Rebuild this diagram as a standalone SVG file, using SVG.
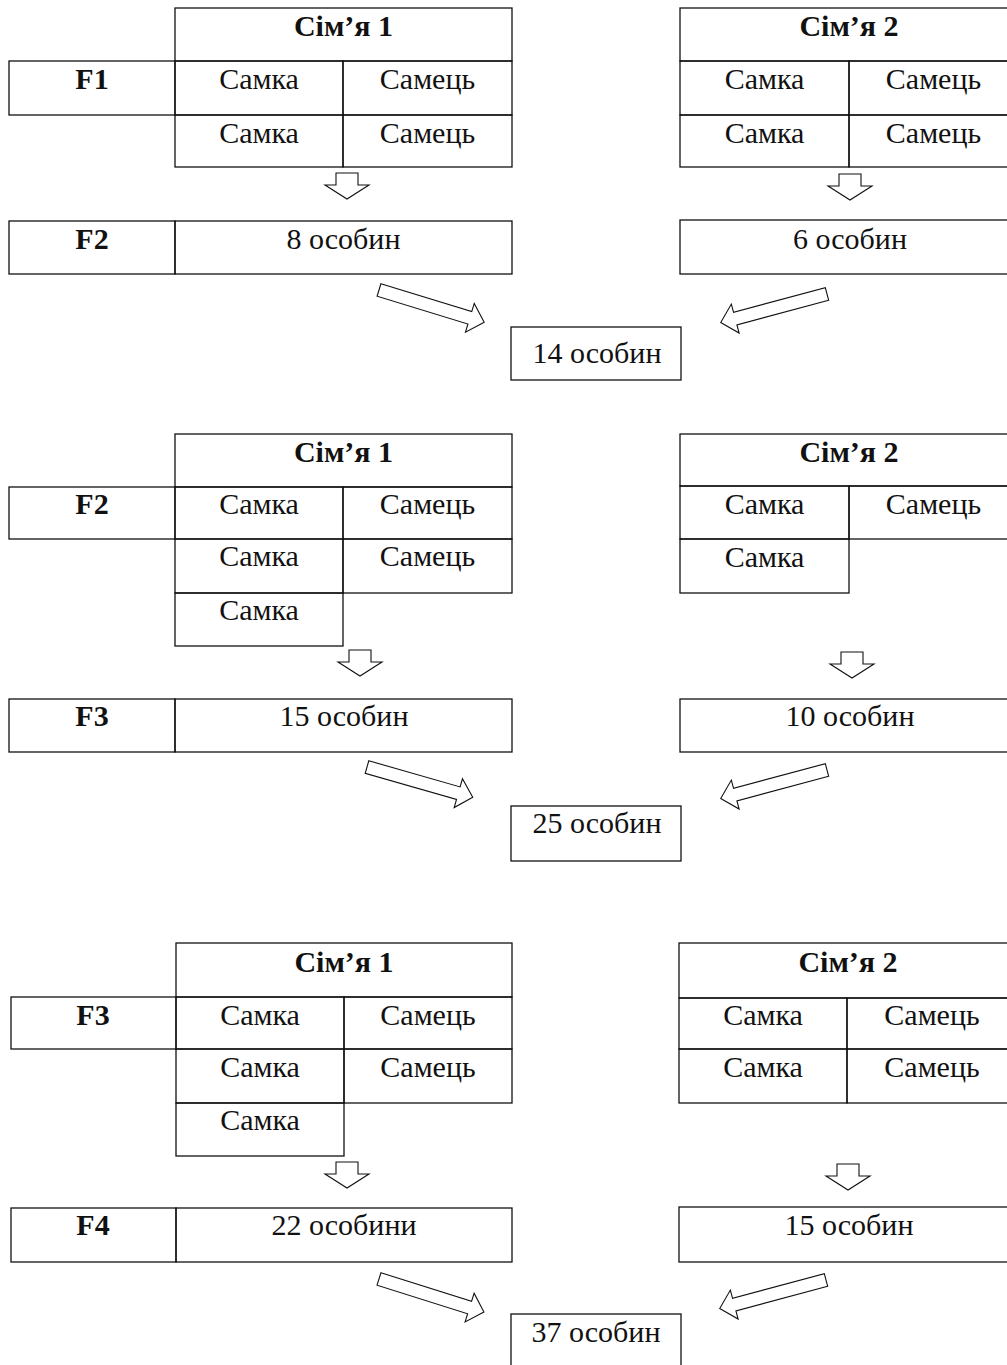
<svg xmlns="http://www.w3.org/2000/svg" width="1007" height="1365" viewBox="0 0 1007 1365">
<style>
.c{fill:none;stroke:#111;stroke-width:1.3}
.t{font-family:'Liberation Serif','DejaVu Serif',serif;font-size:30px;text-anchor:middle;fill:#111}
.b{font-weight:bold}
.a{fill:#fff;stroke:#111;stroke-width:1.1;stroke-linejoin:miter}
</style>
<defs>
<path id="down" d="M-11,0 H11 V12 H22 L0,26 L-22,12 H-11 Z"/>
<path id="diag" d="M0,-6.5 H95 V-15 L110,0 L95,15 V6.5 H0 Z"/>
</defs>
<rect width="1007" height="1365" fill="#fff"/>

<!-- Section 1 -->
<g id="s1-family1">
<rect class="c" x="175" y="8" width="337" height="53"/>
<rect class="c" x="9" y="61" width="166" height="54"/>
<rect class="c" x="175" y="61" width="168" height="54"/>
<rect class="c" x="343" y="61" width="169" height="54"/>
<rect class="c" x="175" y="115" width="168" height="52"/>
<rect class="c" x="343" y="115" width="169" height="52"/>
<text class="t b" x="343.5" y="36">Сім’я 1</text>
<text class="t b" x="92" y="89">F1</text>
<text class="t" x="259" y="89">Самка</text>
<text class="t" x="427.5" y="89">Самець</text>
<text class="t" x="259" y="143">Самка</text>
<text class="t" x="427.5" y="143">Самець</text>
</g>
<g id="s1-family2">
<rect class="c" x="680" y="8" width="338" height="53"/>
<rect class="c" x="680" y="61" width="169" height="54"/>
<rect class="c" x="849" y="61" width="169" height="54"/>
<rect class="c" x="680" y="115" width="169" height="52"/>
<rect class="c" x="849" y="115" width="169" height="52"/>
<text class="t b" x="849" y="36">Сім’я 2</text>
<text class="t" x="764.5" y="89">Самка</text>
<text class="t" x="933.5" y="89">Самець</text>
<text class="t" x="764.5" y="143">Самка</text>
<text class="t" x="933.5" y="143">Самець</text>
</g>
<g id="s1-f2">
<rect class="c" x="9" y="221" width="166" height="53"/>
<rect class="c" x="175" y="221" width="337" height="53"/>
<text class="t b" x="92" y="249">F2</text>
<text class="t" x="343.5" y="249">8 особин</text>
</g>
<g id="s1-f2-family2">
<rect class="c" x="680" y="220" width="338" height="54"/>
<text class="t" x="850" y="249">6 особин</text>
</g>
<g id="s1-total">
<rect class="c" x="511" y="327" width="170" height="53"/>
<text class="t" x="597" y="363">14 особин</text>
</g>

<!-- Section 2 -->
<g id="s2-family1">
<rect class="c" x="175" y="434" width="337" height="53"/>
<rect class="c" x="9" y="487" width="166" height="52"/>
<rect class="c" x="175" y="487" width="168" height="52"/>
<rect class="c" x="343" y="487" width="169" height="52"/>
<rect class="c" x="175" y="539" width="168" height="54"/>
<rect class="c" x="343" y="539" width="169" height="54"/>
<rect class="c" x="175" y="593" width="168" height="53"/>
<text class="t b" x="343.5" y="462">Сім’я 1</text>
<text class="t b" x="92" y="514">F2</text>
<text class="t" x="259" y="514">Самка</text>
<text class="t" x="427.5" y="514">Самець</text>
<text class="t" x="259" y="566">Самка</text>
<text class="t" x="427.5" y="566">Самець</text>
<text class="t" x="259" y="620">Самка</text>
</g>
<g id="s2-family2">
<rect class="c" x="680" y="434" width="338" height="52"/>
<rect class="c" x="680" y="486" width="169" height="53"/>
<rect class="c" x="849" y="486" width="169" height="53"/>
<rect class="c" x="680" y="539" width="169" height="54"/>
<text class="t b" x="849" y="462">Сім’я 2</text>
<text class="t" x="764.5" y="514">Самка</text>
<text class="t" x="933.5" y="514">Самець</text>
<text class="t" x="764.5" y="567">Самка</text>
</g>
<g id="s2-f3">
<rect class="c" x="9" y="699" width="166" height="53"/>
<rect class="c" x="175" y="699" width="337" height="53"/>
<text class="t b" x="92" y="726">F3</text>
<text class="t" x="344" y="726">15 особин</text>
</g>
<g id="s2-f3-family2">
<rect class="c" x="680" y="699" width="338" height="53"/>
<text class="t" x="850" y="726">10 особин</text>
</g>
<g id="s2-total">
<rect class="c" x="511" y="806" width="170" height="55"/>
<text class="t" x="597" y="833">25 особин</text>
</g>

<!-- Section 3 -->
<g id="s3-family1">
<rect class="c" x="176" y="943" width="336" height="54"/>
<rect class="c" x="11" y="997" width="165" height="52"/>
<rect class="c" x="176" y="997" width="168" height="52"/>
<rect class="c" x="344" y="997" width="168" height="52"/>
<rect class="c" x="176" y="1049" width="168" height="54"/>
<rect class="c" x="344" y="1049" width="168" height="54"/>
<rect class="c" x="176" y="1103" width="168" height="53"/>
<text class="t b" x="344" y="972">Сім’я 1</text>
<text class="t b" x="93" y="1025">F3</text>
<text class="t" x="260" y="1025">Самка</text>
<text class="t" x="428" y="1025">Самець</text>
<text class="t" x="260" y="1077">Самка</text>
<text class="t" x="428" y="1077">Самець</text>
<text class="t" x="260" y="1130">Самка</text>
</g>
<g id="s3-family2">
<rect class="c" x="679" y="943" width="339" height="55"/>
<rect class="c" x="679" y="998" width="168" height="51"/>
<rect class="c" x="847" y="998" width="171" height="51"/>
<rect class="c" x="679" y="1049" width="168" height="54"/>
<rect class="c" x="847" y="1049" width="171" height="54"/>
<text class="t b" x="848" y="972">Сім’я 2</text>
<text class="t" x="763" y="1025">Самка</text>
<text class="t" x="932" y="1025">Самець</text>
<text class="t" x="763" y="1077">Самка</text>
<text class="t" x="932" y="1077">Самець</text>
</g>
<g id="s3-f4">
<rect class="c" x="11" y="1208" width="165" height="54"/>
<rect class="c" x="176" y="1208" width="336" height="54"/>
<text class="t b" x="93" y="1235">F4</text>
<text class="t" x="344" y="1235">22 особини</text>
</g>
<g id="s3-f4-family2">
<rect class="c" x="679" y="1207" width="339" height="55"/>
<text class="t" x="849" y="1235">15 особин</text>
</g>
<g id="s3-total">
<rect class="c" x="511" y="1314" width="170" height="60"/>
<text class="t" x="596" y="1342">37 особин</text>
</g>

<!-- Connectors -->
<g id="connectors">
<use href="#down" class="a" transform="translate(347,173)"/>
<use href="#down" class="a" transform="translate(850,174)"/>
<use href="#down" class="a" transform="translate(360,650)"/>
<use href="#down" class="a" transform="translate(852,652)"/>
<use href="#down" class="a" transform="translate(347,1162)"/>
<use href="#down" class="a" transform="translate(848,1164)"/>
<use href="#diag" class="a" transform="translate(379,290) rotate(17)"/>
<use href="#diag" class="a" transform="translate(827,294) rotate(165)"/>
<use href="#diag" class="a" transform="translate(367,767) rotate(16)"/>
<use href="#diag" class="a" transform="translate(827,770) rotate(165)"/>
<use href="#diag" class="a" transform="translate(379,1279) rotate(17.5)"/>
<use href="#diag" class="a" transform="translate(826,1280) rotate(165)"/>
</g>
</svg>
